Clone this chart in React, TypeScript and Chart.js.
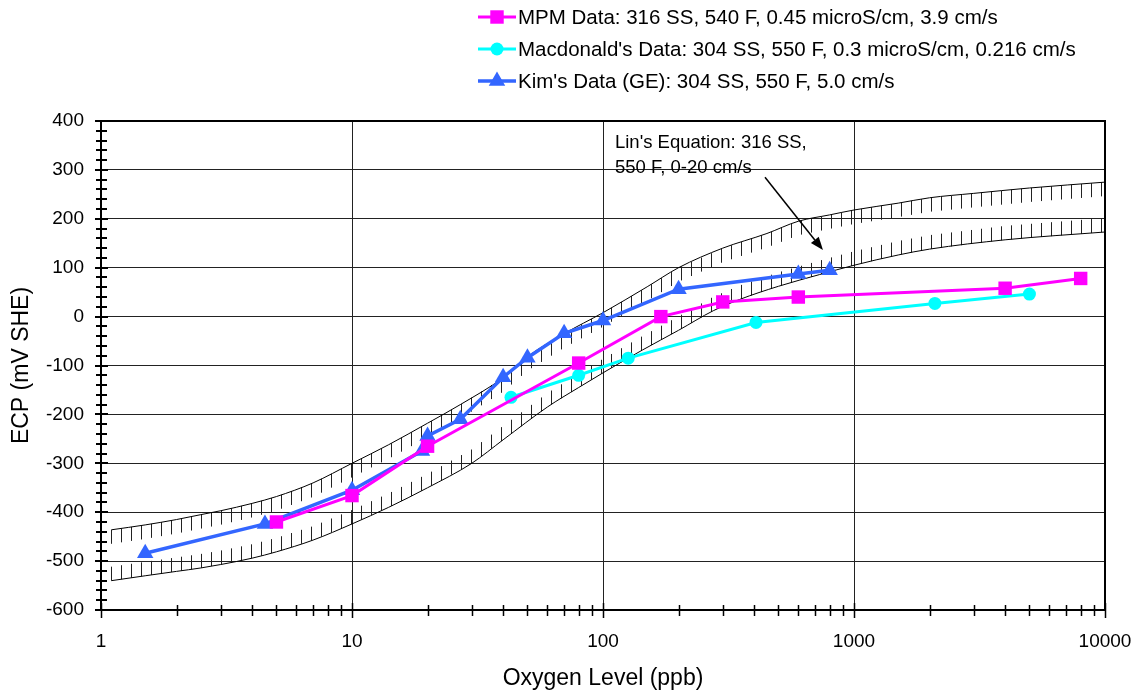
import React, { useEffect, useRef } from 'react';
import { Chart, registerables } from 'chart.js';

Chart.register(...registerables);

const FONT = '"Liberation Sans", Arial, Helvetica, sans-serif';

// ---------- data ----------
const mpmLabel = 'MPM Data: 316 SS, 540 F, 0.45 microS/cm, 3.9 cm/s';
const mpmX = [5, 10, 20, 80, 170, 300, 600, 4000, 8000];
const mpmY = [-420, -366, -265, -95, 0, 30, 40, 58, 78];

const macLabel = "Macdonald's Data: 304 SS, 550 F, 0.3 microS/cm, 0.216 cm/s";
const macX = [43, 80, 126, 407, 2100, 5000];
const macY = [-165, -120, -85, -12, 27, 46];

const kimLabel = "Kim's Data (GE): 304 SS, 550 F, 5.0 cm/s";
const kimX = [1.5, 4.5, 10, 19, 20, 27, 40, 50, 70, 100, 200, 600, 800];
const kimY = [-484, -424, -355, -275, -244, -210, -124, -84, -34, -8, 56, 87, 95];

// Lin's equation band (upper and lower bounds)
const linUpperX = [1.1, 1.5, 2, 2.5, 3, 4, 5, 7, 10, 14, 20, 27, 40, 50, 70, 100, 150, 200, 300, 450, 600, 800, 1000, 1500, 2000, 3000, 5000, 10000];
const linUpperY = [-436, -426, -415, -405, -397, -382, -368, -340, -300, -262, -218, -180, -125, -82, -35, 8, 61, 100, 140, 170, 195, 208, 218, 232, 243, 252, 263, 275];
const linLowerX = [1.1, 1.5, 2, 2.5, 3, 4, 5, 7, 10, 14, 20, 30, 40, 60, 80, 100, 144, 200, 275, 350, 500, 730, 1000, 1500, 2000, 4000, 10000];
const linLowerY = [-540, -530, -521, -514, -507, -494, -481, -457, -424, -390, -350, -300, -252, -185, -145, -115, -68, -28, 12, 35, 62, 86, 105, 126, 138, 157, 173];

const annotationLines = ["Lin's Equation: 316 SS,", '550 F, 0-20 cm/s'];
const annotationAt = { x: 111.6, y: 355 };
const arrowFrom = { x: 442, y: 285 };
const arrowTo = { x: 752, y: 136 };

const xTickValues = [1, 10, 100, 1000, 10000];
const xMin = 1;
const xMax = 10000;
const yMin = -600;
const yMax = 400;
const yStep = 100;
const yMinorStep = 20;

const xTitle = 'Oxygen Level (ppb)';
const yTitle = 'ECP (mV SHE)';

// ---------- helpers ----------
const toPoints = (xs: number[], ys: number[]) => xs.map((x, i) => ({ x, y: ys[i] }));

function drawMarker(ctx: CanvasRenderingContext2D, style: string, x: number, y: number, r: number) {
  ctx.beginPath();
  if (style === 'rect') {
    const s = Math.SQRT1_2 * r;
    ctx.rect(x - s, y - s, 2 * s, 2 * s);
  } else if (style === 'triangle') {
    let rad = 0;
    ctx.moveTo(x + Math.sin(rad) * r, y - Math.cos(rad) * r);
    rad += (2 * Math.PI) / 3;
    ctx.lineTo(x + Math.sin(rad) * r, y - Math.cos(rad) * r);
    rad += (2 * Math.PI) / 3;
    ctx.lineTo(x + Math.sin(rad) * r, y - Math.cos(rad) * r);
    ctx.closePath();
  } else {
    ctx.arc(x, y, r, 0, Math.PI * 2);
  }
  ctx.fill();
}

const hatchPlugin = {
  id: 'hatch',
  beforeDatasetsDraw(chart: any) {
    const { ctx, chartArea } = chart;
    ctx.save();
    ctx.beginPath();
    ctx.rect(chartArea.left, chartArea.top, chartArea.right - chartArea.left, chartArea.bottom - chartArea.top);
    ctx.clip();
    ctx.strokeStyle = '#222';
    ctx.lineWidth = 1;
    chart.data.datasets.forEach((ds: any, i: number) => {
      if (!ds.hatch) return;
      const pts = chart.getDatasetMeta(i).data.map((p: any) => ({ x: p.x, y: p.y }));
      const dir = ds.hatch === 'down' ? 1 : -1;
      const len = 14;
      ctx.beginPath();
      for (let x = pts[0].x; x <= pts[pts.length - 1].x; x += 10) {
        let yv: number | null = null;
        for (let k = 0; k < pts.length - 1; k++) {
          const a = pts[k];
          const b = pts[k + 1];
          if (x >= a.x && x <= b.x) {
            const t = (x - a.x) / (b.x - a.x || 1);
            yv = a.y + t * (b.y - a.y);
            break;
          }
        }
        if (yv === null) continue;
        const px = Math.round(x) + 0.5;
        ctx.moveTo(px, yv);
        ctx.lineTo(px, yv + dir * len);
      }
      ctx.stroke();
    });
    ctx.restore();
  },
};

const framePlugin = {
  id: 'frame',
  afterDraw(chart: any) {
    const { ctx, chartArea, scales } = chart;
    const { left, right, top, bottom } = chartArea;
    ctx.save();
    ctx.strokeStyle = '#000';
    // cross ticks on y axis
    ctx.lineWidth = 2;
    ctx.beginPath();
    for (let v = yMin; v <= yMax; v += yMinorStep) {
      const y = Math.round(scales.y.getPixelForValue(v));
      const major = v % yStep === 0;
      ctx.moveTo(left - (major ? 6 : 5), y);
      ctx.lineTo(left + (major ? 7 : 6), y);
    }
    ctx.stroke();
    // cross ticks on x axis
    ctx.lineWidth = 1.5;
    ctx.beginPath();
    for (let d = xMin; d < xMax; d *= 10) {
      for (let m = 1; m <= 10; m++) {
        const v = d * m;
        const x = Math.round(scales.x.getPixelForValue(v)) + 0.5;
        const major = m === 1 || m === 10;
        ctx.moveTo(x, bottom - (major ? 7 : 5));
        ctx.lineTo(x, bottom + (major ? 8 : 6));
      }
    }
    ctx.stroke();
    // frame
    ctx.lineWidth = 2;
    ctx.strokeRect(left, top, right - left, bottom - top);
    ctx.restore();
  },
};

const annotationPlugin = {
  id: 'linAnnotation',
  afterDraw(chart: any) {
    const { ctx, scales } = chart;
    ctx.save();
    ctx.fillStyle = '#000';
    ctx.font = `18.5px ${FONT}`;
    ctx.textAlign = 'left';
    ctx.textBaseline = 'middle';
    const tx = scales.x.getPixelForValue(annotationAt.x);
    const ty = scales.y.getPixelForValue(annotationAt.y);
    annotationLines.forEach((line, i) => ctx.fillText(line, tx, ty + i * 25));
    const x1 = scales.x.getPixelForValue(arrowFrom.x);
    const y1 = scales.y.getPixelForValue(arrowFrom.y);
    const x2 = scales.x.getPixelForValue(arrowTo.x);
    const y2 = scales.y.getPixelForValue(arrowTo.y);
    const ang = Math.atan2(y2 - y1, x2 - x1);
    const hl = 13;
    const hw = 5;
    const bx = x2 - hl * Math.cos(ang);
    const by = y2 - hl * Math.sin(ang);
    ctx.strokeStyle = '#000';
    ctx.lineWidth = 1.5;
    ctx.beginPath();
    ctx.moveTo(x1, y1);
    ctx.lineTo(bx, by);
    ctx.stroke();
    ctx.beginPath();
    ctx.moveTo(x2, y2);
    ctx.lineTo(bx + hw * Math.sin(ang), by - hw * Math.cos(ang));
    ctx.lineTo(bx - hw * Math.sin(ang), by + hw * Math.cos(ang));
    ctx.closePath();
    ctx.fill();
    ctx.restore();
  },
};

const LEGEND_X = 478;
const LEGEND_LINE = 38;
const LEGEND_TOP = 17;
const LEGEND_ROW = 32;

const legendPlugin = {
  id: 'rowLegend',
  afterDraw(chart: any) {
    const { ctx } = chart;
    ctx.save();
    chart.data.datasets.forEach((ds: any, i: number) => {
      if (!ds.inLegend) return;
      const y = LEGEND_TOP + i * LEGEND_ROW;
      ctx.strokeStyle = ds.borderColor;
      ctx.lineWidth = ds.borderWidth;
      ctx.beginPath();
      ctx.moveTo(LEGEND_X, y);
      ctx.lineTo(LEGEND_X + LEGEND_LINE, y);
      ctx.stroke();
      ctx.fillStyle = ds.backgroundColor;
      drawMarker(ctx, ds.pointStyle, LEGEND_X + LEGEND_LINE / 2, y, ds.pointRadius);
      ctx.fillStyle = '#000';
      ctx.font = `20.5px ${FONT}`;
      ctx.textAlign = 'left';
      ctx.textBaseline = 'middle';
      ctx.fillText(ds.label, LEGEND_X + LEGEND_LINE + 2, y + 1);
    });
    ctx.restore();
  },
};

export default function App() {
  const canvasRef = useRef<HTMLCanvasElement | null>(null);

  useEffect(() => {
    if (!canvasRef.current) return;
    Chart.defaults.font.family = FONT;
    Chart.defaults.color = '#000';
    const chart = new Chart(canvasRef.current, {
      type: 'line',
      data: {
        datasets: [
          {
            label: mpmLabel,
            data: toPoints(mpmX, mpmY),
            borderColor: '#FF00FF',
            backgroundColor: '#FF00FF',
            borderWidth: 3,
            pointStyle: 'rect',
            pointRadius: 9.5,
            pointBorderWidth: 0,
            inLegend: true,
          } as any,
          {
            label: macLabel,
            data: toPoints(macX, macY),
            borderColor: '#00FFFF',
            backgroundColor: '#00FFFF',
            borderWidth: 3,
            pointStyle: 'circle',
            pointRadius: 6.5,
            pointBorderWidth: 0,
            inLegend: true,
          } as any,
          {
            label: kimLabel,
            data: toPoints(kimX, kimY),
            borderColor: '#3366FF',
            backgroundColor: '#3366FF',
            borderWidth: 3.5,
            pointStyle: 'triangle',
            pointRadius: 9.5,
            pointBorderWidth: 0,
            inLegend: true,
          } as any,
          {
            label: 'Lin upper',
            data: toPoints(linUpperX, linUpperY),
            borderColor: '#000',
            borderWidth: 1,
            pointRadius: 0,
            cubicInterpolationMode: 'monotone',
            hatch: 'down',
          } as any,
          {
            label: 'Lin lower',
            data: toPoints(linLowerX, linLowerY),
            borderColor: '#000',
            borderWidth: 1,
            pointRadius: 0,
            cubicInterpolationMode: 'monotone',
            hatch: 'up',
          } as any,
        ],
      },
      options: {
        responsive: true,
        maintainAspectRatio: false,
        animation: false,
        events: [],
        layout: { padding: { top: 121, right: 33, left: 0, bottom: 0 } },
        plugins: {
          legend: { display: false },
          tooltip: { enabled: false },
        },
        scales: {
          x: {
            type: 'logarithmic',
            min: xMin,
            max: xMax,
            afterBuildTicks: (scale: any) => {
              scale.ticks = xTickValues.map((v) => ({ value: v }));
            },
            afterFit: (scale: any) => {
              scale.height = 84;
              scale.paddingLeft = 0;
              scale.paddingRight = 0;
            },
            ticks: {
              autoSkip: false,
              maxRotation: 0,
              padding: 20,
              font: { size: 19 },
              callback: (v: any) => String(v),
            },
            grid: { color: '#222', lineWidth: 1, drawTicks: false },
            border: { display: false },
            title: {
              display: true,
              text: xTitle,
              font: { size: 23 },
              padding: { top: 0, bottom: 2 },
            },
          },
          y: {
            type: 'linear',
            min: yMin,
            max: yMax,
            afterFit: (scale: any) => {
              scale.width = 101;
              scale.paddingTop = 0;
              scale.paddingBottom = 0;
            },
            ticks: { stepSize: yStep, padding: 17, font: { size: 19 } },
            grid: { color: '#222', lineWidth: 1, drawTicks: false },
            border: { display: false },
            title: {
              display: true,
              text: yTitle,
              font: { size: 23 },
              padding: { top: 8, bottom: 0 },
            },
          },
        },
      } as any,
      plugins: [hatchPlugin, framePlugin, annotationPlugin, legendPlugin],
    });
    return () => chart.destroy();
  }, []);

  return (
    <div style={{ position: 'absolute', left: 0, top: 0, width: 1138, height: 694, background: '#fff' }}>
      <canvas ref={canvasRef} />
    </div>
  );
}
